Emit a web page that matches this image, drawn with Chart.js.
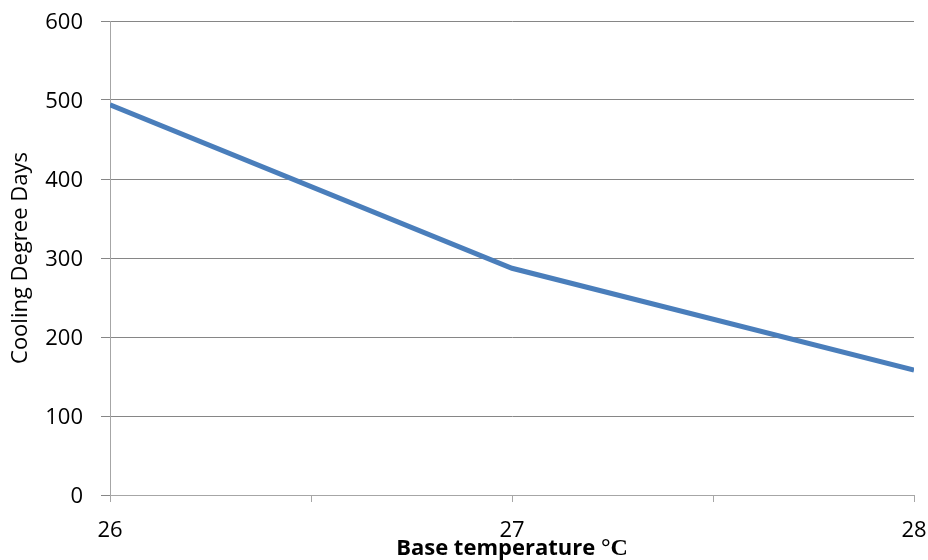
<!DOCTYPE html>
<html>
<head>
<meta charset="utf-8">
<title>Cooling Degree Days</title>
<script src="https://cdn.jsdelivr.net/npm/chart.js@4"></script>
<style>
  html, body { margin: 0; padding: 0; background: #fff; }
  #wrap { width: 928px; height: 560px; }
</style>
</head>
<body>
<div id="wrap"><canvas id="chart"></canvas></div>
<script>
'use strict';

const baseTemps = [26, 27, 28];
const coolingDays = [494, 287, 158];
const yTicks = [0, 100, 200, 300, 400, 500, 600];

const FONT = '"Open Sans", "Liberation Sans", sans-serif';

// x axis title: bold label plus a serif degree sign
const xTitlePlugin = {
  id: 'xTitle',
  afterDraw(chart) {
    const ctx = chart.ctx;
    const main = 'Base temperature ';
    const unit = '°C';
    ctx.save();
    ctx.fillStyle = '#000';
    ctx.textBaseline = 'alphabetic';
    ctx.font = 'bold 22px ' + FONT;
    const w1 = ctx.measureText(main).width;
    ctx.font = 'bold 24px "Liberation Serif", serif';
    const w2 = ctx.measureText(unit).width;
    const cx = (chart.chartArea.left + chart.chartArea.right) / 2;
    const x = cx - (w1 + w2) / 2;
    ctx.textAlign = 'left';
    ctx.font = 'bold 22px ' + FONT;
    ctx.fillText(main, x, 555);
    ctx.font = 'bold 24px "Liberation Serif", serif';
    ctx.fillText(unit, x + w1, 555);
    ctx.restore();
  }
};

const ctx = document.getElementById('chart').getContext('2d');

new Chart(ctx, {
  type: 'line',
  data: {
    datasets: [{
      label: 'Cooling Degree Days',
      data: baseTemps.map((t, i) => ({ x: t, y: coolingDays[i] })),
      borderColor: '#4A7EBB',
      borderWidth: 5,
      pointRadius: 0,
      tension: 0,
      fill: false
    }]
  },
  options: {
    responsive: true,
    maintainAspectRatio: false,
    animation: false,
    layout: { padding: { top: 21, right: 14, bottom: 0, left: 0 } },
    plugins: {
      legend: { display: false },
      tooltip: { enabled: false }
    },
    scales: {
      x: {
        type: 'linear',
        min: baseTemps[0],
        max: baseTemps[baseTemps.length - 1],
        afterFit: scale => {
          scale.height = 65;
          scale.paddingLeft = 0;
          scale.paddingRight = 0;
        },
        ticks: {
          stepSize: 0.5,
          autoSkip: false,
          maxRotation: 0,
          padding: 16,
          color: '#000',
          font: { family: FONT, size: 22 },
          callback: v => Number.isInteger(v) ? String(v) : ''
        },
        grid: {
          drawOnChartArea: false,
          drawTicks: true,
          tickLength: 7,
          color: '#A6A6A6'
        },
        border: { color: '#A6A6A6', width: 1 }
      },
      y: {
        min: yTicks[0],
        max: yTicks[yTicks.length - 1],
        afterFit: scale => {
          scale.width = 110;
          scale.paddingTop = 0;
          scale.paddingBottom = 0;
        },
        afterBuildTicks: scale => { scale.ticks = yTicks.map(v => ({ value: v })); },
        ticks: {
          padding: 18,
          labelOffset: 2,
          color: '#000',
          font: { family: FONT, size: 22 }
        },
        grid: {
          color: '#868686',
          tickLength: 9,
          tickColor: '#868686'
        },
        border: { color: '#A6A6A6', width: 1 },
        title: {
          display: true,
          text: 'Cooling Degree Days',
          color: '#000',
          font: { family: FONT, size: 22 },
          padding: { top: 8, bottom: 0 }
        }
      }
    }
  },
  plugins: [xTitlePlugin]
});
</script>
</body>
</html>
